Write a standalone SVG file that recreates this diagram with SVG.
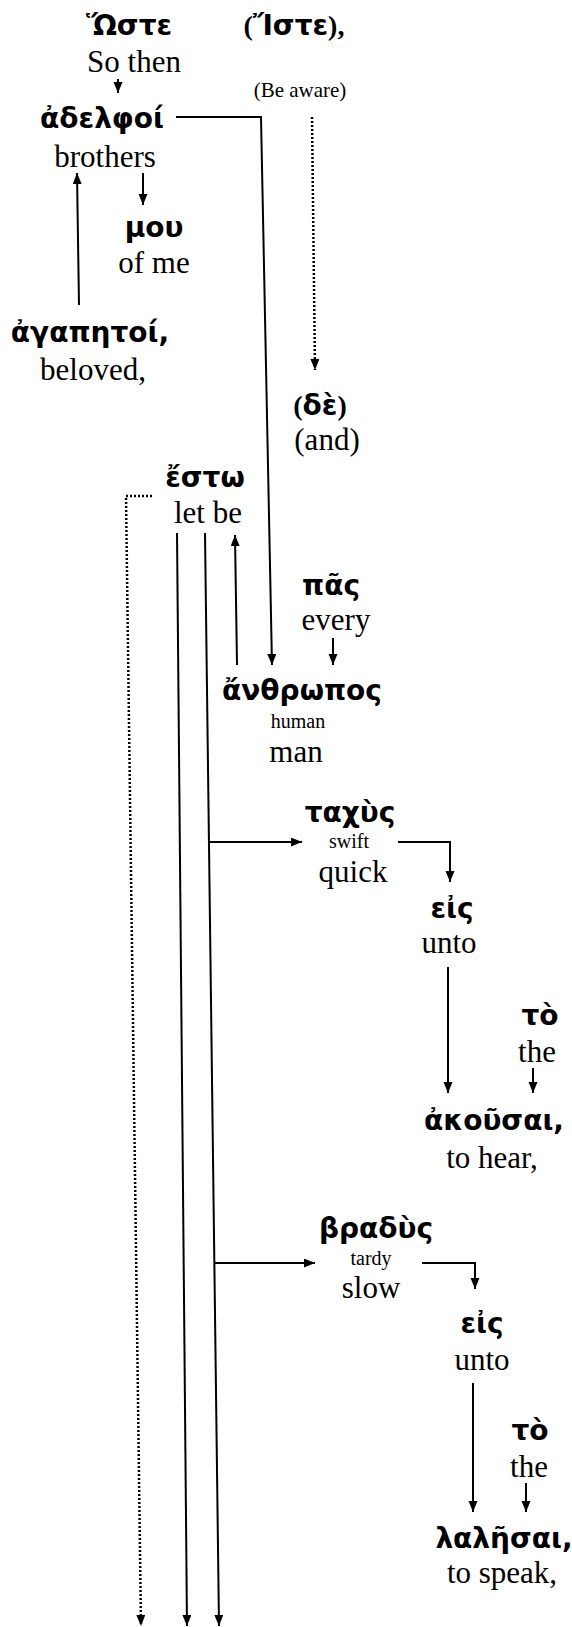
<svg xmlns="http://www.w3.org/2000/svg" width="572" height="1627" viewBox="0 0 572 1627">
<defs>
<style>
.g{font-family:"DejaVu Sans","Noto Sans",sans-serif;font-weight:bold;font-size:28px;fill:#000;text-anchor:middle}
.p{font-family:"Liberation Serif",serif;font-weight:bold}
.e{font-family:"Liberation Serif","Times New Roman",serif;font-size:31px;fill:#000;text-anchor:middle}
.s{font-family:"Liberation Serif","Times New Roman",serif;font-size:20px;fill:#000;text-anchor:middle}
.c{fill:none;stroke:#000;stroke-width:2}
.d{fill:none;stroke:#000;stroke-width:2.5;stroke-dasharray:2 2}
</style>
<marker id="ah" markerUnits="userSpaceOnUse" markerWidth="12" markerHeight="10" refX="11" refY="4.5" orient="auto">
<path d="M0,0 L11,4.5 L0,9 z" fill="#000"/>
</marker>
</defs>
<rect width="572" height="1627" fill="#fff"/>
<g id="connectors">
<path class="c" d="M118,79 L118,93" marker-end="url(#ah)"/>
<path class="c" d="M176,117 L261,117 L272,665" marker-end="url(#ah)"/>
<path class="d" d="M312,117 L315,370" marker-end="url(#ah)"/>
<path class="c" d="M79,305 L77,173" marker-end="url(#ah)"/>
<path class="c" d="M143,173 L143,205" marker-end="url(#ah)"/>
<path class="d" d="M152,496 L126,496 L141,1626" marker-end="url(#ah)"/>
<path class="c" d="M177,533 L187,1626" marker-end="url(#ah)"/>
<path class="c" d="M205,533 L219,1626" marker-end="url(#ah)"/>
<path class="c" d="M237,665 L235,535" marker-end="url(#ah)"/>
<path class="c" d="M333,638 L333,665" marker-end="url(#ah)"/>
<path class="c" d="M209,842 L302,842" marker-end="url(#ah)"/>
<path class="c" d="M398,842 L450,842 L450,882" marker-end="url(#ah)"/>
<path class="c" d="M448,967 L448,1093" marker-end="url(#ah)"/>
<path class="c" d="M533,1068 L533,1093" marker-end="url(#ah)"/>
<path class="c" d="M215,1263 L315,1263" marker-end="url(#ah)"/>
<path class="c" d="M422,1263 L475,1263 L475,1289" marker-end="url(#ah)"/>
<path class="c" d="M473,1383 L473,1512" marker-end="url(#ah)"/>
<path class="c" d="M526,1483 L526,1512" marker-end="url(#ah)"/>
</g>
<g id="n-hoste"><text class="g" x="129" y="35">Ὥστε</text><text class="e" x="134" y="72">So then</text></g>
<g id="n-iste"><text class="g" x="294" y="35"><tspan class="p">(</tspan>Ἴστε<tspan class="p">),</tspan></text><text class="s" x="300" y="97" style="font-size:21px">(Be aware)</text></g>
<g id="n-adelphoi"><text class="g" x="102" y="128">ἀδελφοί</text><text class="e" x="105" y="167">brothers</text></g>
<g id="n-mou"><text class="g" x="154" y="237">μου</text><text class="e" x="154" y="273">of me</text></g>
<g id="n-agapetoi"><text class="g" x="90" y="342">ἀγαπητοί,</text><text class="e" x="93" y="380">beloved,</text></g>
<g id="n-de"><text class="g" x="320" y="415"><tspan class="p">(</tspan>δὲ<tspan class="p">)</tspan></text><text class="e" x="327" y="450">(and)</text></g>
<g id="n-esto"><text class="g" x="205" y="487">ἔστω</text><text class="e" x="208" y="523">let be</text></g>
<g id="n-pas"><text class="g" x="331" y="595">πᾶς</text><text class="e" x="336" y="630">every</text></g>
<g id="n-anthropos"><text class="g" x="302" y="700">ἄνθρωπος</text><text class="s" x="298" y="728">human</text><text class="e" x="296" y="762">man</text></g>
<g id="n-tachus"><text class="g" x="350" y="822">ταχὺς</text><text class="s" x="349" y="848">swift</text><text class="e" x="353" y="882">quick</text></g>
<g id="n-eis1"><text class="g" x="452" y="918">εἰς</text><text class="e" x="449" y="953">unto</text></g>
<g id="n-to1"><text class="g" x="540" y="1025">τὸ</text><text class="e" x="537" y="1062">the</text></g>
<g id="n-akousai"><text class="g" x="494" y="1130">ἀκοῦσαι,</text><text class="e" x="492" y="1168">to hear,</text></g>
<g id="n-bradus"><text class="g" x="376" y="1238">βραδὺς</text><text class="s" x="371" y="1265">tardy</text><text class="e" x="371" y="1298">slow</text></g>
<g id="n-eis2"><text class="g" x="482" y="1333">εἰς</text><text class="e" x="482" y="1370">unto</text></g>
<g id="n-to2"><text class="g" x="530" y="1440">τὸ</text><text class="e" x="529" y="1477">the</text></g>
<g id="n-lalesai"><text class="g" x="504" y="1548">λαλῆσαι,</text><text class="e" x="502" y="1583">to speak,</text></g>
</svg>
